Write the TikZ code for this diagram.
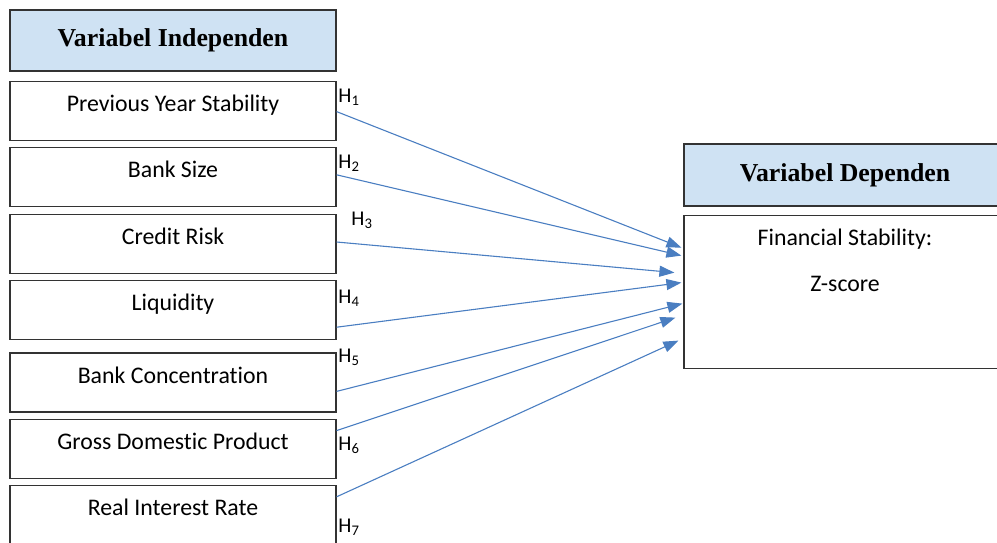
\documentclass[tikz,border=0pt]{standalone}
\usepackage{fontspec}
\setmainfont{Carlito}[Ligatures=CommonOff]
\newfontfamily\headfont{Liberation Serif}
\usetikzlibrary{arrows.meta,positioning,calc}
\definecolor{headblue}{HTML}{CFE2F3}
\definecolor{arrowblue}{HTML}{4A7EC1}

\begin{document}
\begin{tikzpicture}[
  x=1pt, y=-1pt,
  every node/.style={font=\fontsize{23.8}{28}\selectfont},
  head/.style={draw=black!80, line width=1.2pt, fill=headblue, inner sep=0pt,
               minimum width=326pt, minimum height=61pt,
               font=\headfont\bfseries\fontsize{25.8}{30}\selectfont},
  varbox/.style={draw=black!80, line width=1.2pt, minimum width=326pt,
                 inner sep=0pt, text height=30pt, text depth=29pt},
  hyp/.style={-{Triangle[length=15pt,width=11pt]}, arrowblue, line width=1.1pt},
  hlabel/.style={font=\fontsize{21}{24}\selectfont, inner sep=0pt},
]
  \useasboundingbox (0,0) rectangle (997,542);
  % Independent variables
  \node[head] (indep) at (173,40.5) {Variabel Independen};
  \node[varbox, below=9pt of indep] (pys) {Previous Year Stability};
  \node[varbox, below=6pt of pys] (bsz) {Bank Size};
  \node[varbox, below=7pt of bsz] (crr) {Credit Risk};
  \node[varbox, below=6pt of crr] (liq) {Liquidity};
  \node[varbox, below=12pt of liq] (bcn) {Bank Concentration};
  \node[varbox, below=6pt of bcn] (gdp) {Gross Domestic Product};
  \node[varbox, below=6pt of gdp] (rir) {Real Interest Rate};
  % Dependent variable
  \node[head, minimum width=322pt, minimum height=62pt] (dephead) at (845,175) {Variabel Dependen};
  \node[draw=black!80, line width=1.2pt, minimum width=322pt, minimum height=153pt,
        below=8pt of dephead] (dep) {};
  \node[below=11pt of dep.north] (fs) {Financial Stability:};
  \node[below=20pt of fs] (zs) {Z-score};
  % Hypothesis arrows
  \foreach \src/\sy/\ex/\ey in {pys/31/2/33, bsz/28/2/41, crr/28/9/58, liq/47/2/68,
                                bcn/39/1/89, gdp/12/8/103, rir/12/5/126} {
    \draw[hyp] ($(\src.north east)+(0,\sy)$) -- ($(dep.north west)+(-\ex,\ey)$);
  }
  % Hypothesis labels
  \foreach \i/\x/\y in {1/349/97, 2/349/163, 3/362/220, 4/349/298,
                        5/349/357, 6/349/445, 7/349/527} {
    \node[hlabel] (h\i) at (\x,\y) {H\textsubscript{\i}};
  }
\end{tikzpicture}
\end{document}
